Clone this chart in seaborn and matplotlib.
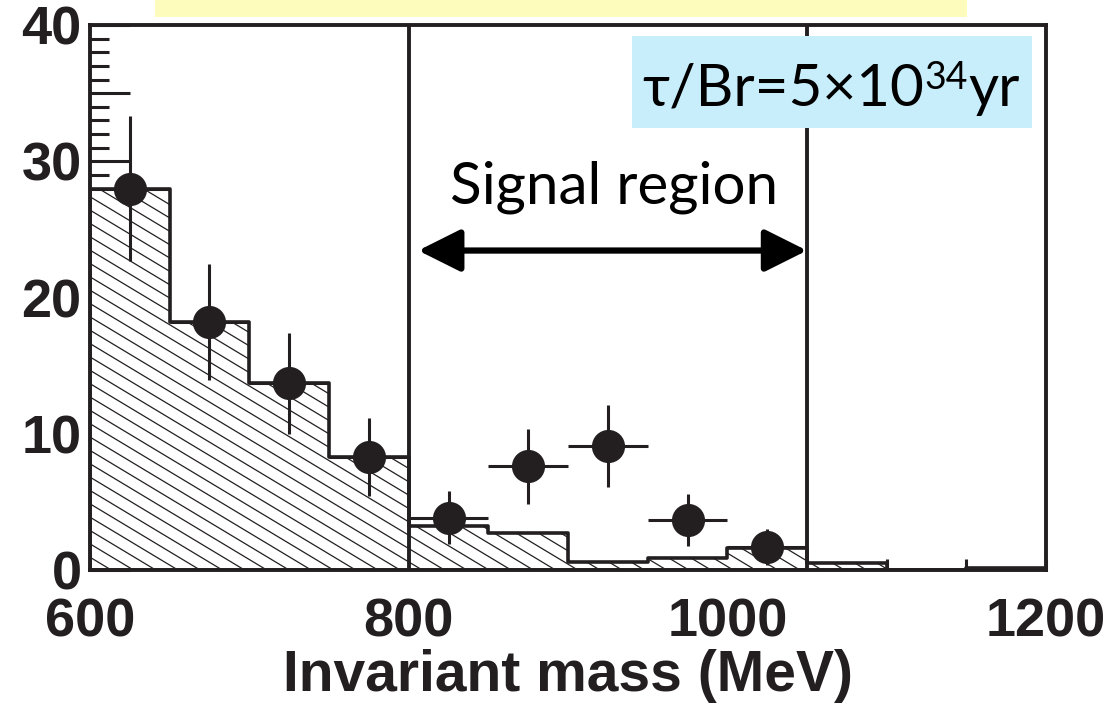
import numpy as np
import matplotlib
matplotlib.use("Agg")
import matplotlib.pyplot as plt
import matplotlib.transforms as mtransforms
import seaborn as sns
from matplotlib.collections import LineCollection
from matplotlib.patches import Rectangle, FancyArrowPatch
from matplotlib.ticker import MultipleLocator, FuncFormatter

# Expected background, 50 MeV bins between 600 and 1200 MeV
bin_edges = [600, 650, 700, 750, 800, 850, 900, 950, 1000, 1050, 1100, 1150, 1200]
mc_counts = [28.0, 18.2, 13.7, 8.3, 3.25, 2.75, 0.6, 0.9, 1.6, 0.5, 0.0, 0.12]

# Observed events (bin centres, counts, statistical errors)
data_mass = [625, 675, 725, 775, 825, 875, 925, 975, 1025]
data_counts = [28.0, 18.2, 13.7, 8.3, 3.85, 7.6, 9.1, 3.7, 1.7]
data_err = [5.3, 4.25, 3.7, 2.85, 1.95, 2.75, 3.0, 1.9, 1.3]
data_xerr = 25

signal_window = [800, 1050]
x_ticks = [600, 800, 1000, 1200]
y_ticks = [0, 10, 20, 30, 40]

xlabel = "Invariant mass (MeV)"
signal_text = "Signal region"
lifetime_main, lifetime_exp, lifetime_unit = "τ/Br=5×10", "34", "yr"

INK = "#231f20"
HUMANIST = ["Lato", "DejaVu Sans"]

sns.set_style("white")
plt.rcParams["font.family"] = ["Liberation Sans", "DejaVu Sans"]

fig = plt.figure(figsize=(11.07, 7.12), dpi=100)
ax = fig.add_axes([0.0813, 0.1994, 0.8636, 0.7654])

# Background histogram drawn as a filled step outline
centers = [(a + b) / 2 for a, b in zip(bin_edges[:-1], bin_edges[1:])]
sns.histplot(x=centers, weights=mc_counts, bins=bin_edges, element="step",
             fill=True, facecolor="white", edgecolor=INK, linewidth=2.6,
             alpha=1, ax=ax, zorder=1)
hist_poly = ax.collections[-1]
hist_path = hist_poly.get_paths()[0]

# Diagonal hatching clipped to the histogram outline
slope = -0.0703            # counts per MeV (about 31 degrees on screen)
spacing = 0.98
offsets = np.arange(-2, 40 - slope * 600 + 2, spacing)
segs = [[(600, c), (1200, c + slope * 600)] for c in offsets]
hatch = LineCollection(segs, colors=INK, linewidths=0.9, zorder=1.5)
ax.add_collection(hatch)
hatch.set_clip_path(hist_path, ax.transData)

# Signal window boundaries
for xv in signal_window:
    ax.axvline(xv, color=INK, lw=2.8, zorder=3)

# Observed data with error bars
ax.errorbar(data_mass, data_counts, yerr=data_err, xerr=data_xerr, fmt="none",
            ecolor=INK, elinewidth=2.2, capsize=0, zorder=4)
sns.scatterplot(x=data_mass, y=data_counts, s=570, color=INK, edgecolor=INK,
                linewidth=0, ax=ax, zorder=5, legend=False)

# Signal-region arrow and label
arrow = FancyArrowPatch((signal_window[0] + 6, 23.45), (signal_window[1], 23.45),
                        arrowstyle="<|-|>,head_length=1.3,head_width=0.65",
                        mutation_scale=20, lw=4.5, color="black",
                        shrinkA=0, shrinkB=0, zorder=6)
ax.add_patch(arrow)
ax.text(929, 28.1, signal_text, ha="center", va="center", fontsize=42,
        family=HUMANIST, color="black", zorder=6)

# Lifetime box
ax.add_patch(Rectangle((0.567, 0.811), 0.418, 0.169, transform=ax.transAxes,
                       facecolor="#c9eefb", edgecolor="none", zorder=6))
t1 = ax.text(0.578, 0.852, lifetime_main, transform=ax.transAxes, ha="left",
             va="baseline", fontsize=42, family=HUMANIST,
             color="black", zorder=7)
t2 = ax.annotate(lifetime_exp, xy=(1, 1), xycoords=t1, ha="left", va="top",
                 fontsize=27, family=HUMANIST, color="black",
                 xytext=(0, 2), textcoords="offset points", zorder=7)
t3 = ax.annotate(lifetime_unit, xy=(1, 0), xycoords=(t2, t1), ha="left",
                 va="bottom", fontsize=42, family=HUMANIST,
                 color="black", zorder=7)

# Axes ranges, ticks and labels
ax.set_xlim(600, 1200)
ax.set_ylim(0, 40)
ax.set_xticks(x_ticks)
ax.xaxis.set_minor_locator(MultipleLocator(50))
ax.yaxis.set_major_locator(MultipleLocator(5))
ax.yaxis.set_minor_locator(MultipleLocator(1))
ax.yaxis.set_major_formatter(FuncFormatter(
    lambda v, p: f"{int(v)}" if int(round(v)) in y_ticks else ""))
ax.tick_params(axis="y", which="major", direction="in", length=29, width=2.2,
               color=INK, pad=6, left=True, right=False)
ax.tick_params(axis="y", which="minor", direction="in", length=14, width=2.2,
               color=INK, left=True, right=False)
ax.tick_params(axis="x", which="both", direction="in", length=8, width=2.2,
               color=INK, bottom=True, top=False, pad=20)
for lab in ax.get_xticklabels() + ax.get_yticklabels():
    lab.set_fontsize(39)
    lab.set_fontweight("bold")
    lab.set_color(INK)

# Lift the zero label a little so it clears the first mass label
zero_label = ax.yaxis.get_major_ticks()[0].label1
zero_label.set_transform(zero_label.get_transform() +
                         mtransforms.ScaledTranslation(0, 4 / 100, fig.dpi_scale_trans))

ax.set_xlabel(xlabel, fontsize=41, fontweight="bold", color=INK, labelpad=1)
ax.set_ylabel("")

for sp in ax.spines.values():
    sp.set_linewidth(2.8)
    sp.set_color(INK)
    sp.set_zorder(8)

# Title banner strip at the top edge
fig.patches.append(Rectangle((155 / 1107, 1 - 17 / 712), (967 - 155) / 1107,
                             17 / 712, transform=fig.transFigure,
                             facecolor="#fefcbd", edgecolor="none"))

fig.savefig("out.png", dpi=100)
